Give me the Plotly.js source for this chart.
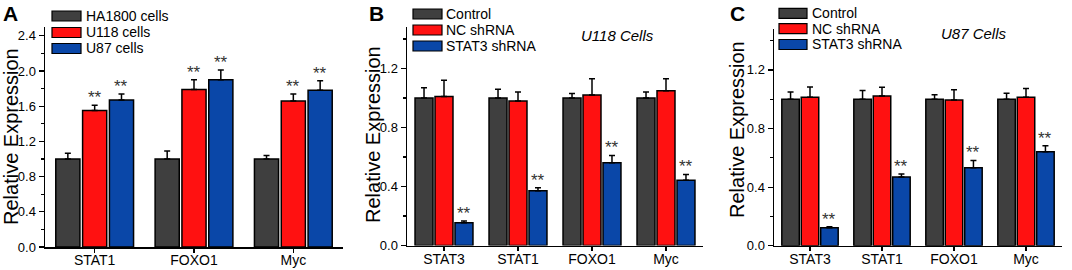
<!DOCTYPE html>
<html>
<head>
<meta charset="utf-8">
<script src="https://cdn.plot.ly/plotly-3.0.1.min.js"></script>
<style>html,body{margin:0;padding:0;background:#fff;}#chart{width:1072px;height:270px;}</style>
</head>
<body>
<div id="chart"></div>
<script>
// ---------- data ----------
const genesA = ['STAT1', 'FOXO1', 'Myc'];
const ha1800A = [1.00, 1.00, 1.00];
const ha1800ErrA = [0.065, 0.09, 0.04];
const u118A = [1.55, 1.79, 1.66];
const u118ErrA = [0.06, 0.11, 0.08];
const u87A = [1.67, 1.90, 1.78];
const u87ErrA = [0.07, 0.11, 0.11];

const genesB = ['STAT3', 'STAT1', 'FOXO1', 'Myc'];
const controlB = [1.00, 1.00, 1.00, 1.00];
const controlErrB = [0.07, 0.06, 0.03, 0.04];
const ncB = [1.01, 0.98, 1.02, 1.05];
const ncErrB = [0.11, 0.06, 0.11, 0.08];
const shB = [0.155, 0.372, 0.561, 0.442];
const shErrB = [0.011, 0.02, 0.05, 0.04];

const genesC = ['STAT3', 'STAT1', 'FOXO1', 'Myc'];
const controlC = [1.00, 1.00, 1.00, 1.00];
const controlErrC = [0.05, 0.06, 0.03, 0.04];
const ncC = [1.013, 1.022, 0.995, 1.013];
const ncErrC = [0.07, 0.06, 0.07, 0.06];
const shC = [0.123, 0.469, 0.532, 0.642];
const shErrC = [0.007, 0.02, 0.05, 0.04];

const legendA = ['HA1800 cells', 'U118 cells', 'U87 cells'];
const legendBC = ['Control', 'NC shRNA', 'STAT3 shRNA'];
const stars = '**';

// ---------- style ----------
const FONT = 'Arial, "Liberation Sans", Helvetica, sans-serif';
const GRAY = '#3f3f3f', RED = '#ff1111', BLUE = '#0a47a8';
const COLORS = [GRAY, RED, BLUE];
const BARGAP = 0.19, BARGROUPGAP = 0.1;
const SLOT = (1 - BARGAP) / 3;

function barTrace(x, y, err, color, xa, ya) {
  return {
    type: 'bar', x: x, y: y, xaxis: xa, yaxis: ya, showlegend: false,
    marker: {color: color, line: {color: '#000', width: 1.5}},
    error_y: {type: 'data', symmetric: false, array: err, arrayminus: err.map(() => 0),
              color: '#000', thickness: 1.5, width: 3},
    hoverinfo: 'skip'
  };
}

const traces = [
  barTrace(genesA, ha1800A, ha1800ErrA, GRAY, 'x', 'y'),
  barTrace(genesA, u118A, u118ErrA, RED, 'x', 'y'),
  barTrace(genesA, u87A, u87ErrA, BLUE, 'x', 'y'),
  barTrace(genesB, controlB, controlErrB, GRAY, 'x2', 'y2'),
  barTrace(genesB, ncB, ncErrB, RED, 'x2', 'y2'),
  barTrace(genesB, shB, shErrB, BLUE, 'x2', 'y2'),
  barTrace(genesC, controlC, controlErrC, GRAY, 'x3', 'y3'),
  barTrace(genesC, ncC, ncErrC, RED, 'x3', 'y3'),
  barTrace(genesC, shC, shErrC, BLUE, 'x3', 'y3')
];

const annotations = [];
function addStars(vals, errs, k, xa, ya) {
  vals.forEach((v, i) => {
    annotations.push({
      xref: xa, yref: ya, x: i + (k - 1) * SLOT, y: v + errs[i],
      text: stars, showarrow: false, yanchor: 'bottom', xanchor: 'center', yshift: -4,
      font: {family: FONT, size: 17, color: '#333'}
    });
  });
}
addStars(u118A, u118ErrA, 1, 'x', 'y');
addStars(u87A, u87ErrA, 2, 'x', 'y');
addStars(shB, shErrB, 2, 'x2', 'y2');
addStars(shC, shErrC, 2, 'x3', 'y3');

const W = 1072, H = 270;
function px(x) { return x / W; }
function py(y) { return 1 - y / H; }

// panel letters
[['A', 10], ['B', 376], ['C', 737]].forEach(([t, x]) => {
  annotations.push({xref: 'paper', yref: 'paper', x: px(x), y: py(13), text: '<b>' + t + '</b>',
    showarrow: false, xanchor: 'center', yanchor: 'middle', font: {family: FONT, size: 21, color: '#000'}});
});
// y titles
[[11, 137], [373, 135], [737, 130]].forEach(([x, y]) => {
  annotations.push({xref: 'paper', yref: 'paper', x: px(x), y: py(y), text: 'Relative Expression',
    textangle: -90, showarrow: false, xanchor: 'center', yanchor: 'middle',
    font: {family: FONT, size: 20, color: '#000'}});
});
// cell line labels
annotations.push({xref: 'paper', yref: 'paper', x: px(617), y: py(35), text: '<i>U118 Cells</i>',
  showarrow: false, xanchor: 'center', yanchor: 'middle', font: {family: FONT, size: 15, color: '#000'}});
annotations.push({xref: 'paper', yref: 'paper', x: px(974), y: py(33), text: '<i>U87 Cells</i>',
  showarrow: false, xanchor: 'center', yanchor: 'middle', font: {family: FONT, size: 15, color: '#000'}});

// custom legends (wide swatches)
const shapes = [];
function addLegend(labels, x0, x1, rows, tx) {
  labels.forEach((lab, k) => {
    shapes.push({type: 'rect', xref: 'paper', yref: 'paper', x0: px(x0), x1: px(x1),
      y0: py(rows[k] + 5), y1: py(rows[k] - 5), fillcolor: COLORS[k], line: {color: '#000', width: 1.2}});
    annotations.push({xref: 'paper', yref: 'paper', x: px(tx), y: py(rows[k]), text: lab,
      showarrow: false, xanchor: 'left', yanchor: 'middle', font: {family: FONT, size: 14, color: '#000'}});
  });
}
addLegend(legendA, 52, 81, [16, 32.5, 48.5], 84);
addLegend(legendBC, 413, 442, [14, 30, 46], 444);
addLegend(legendBC, 779, 807, [13.3, 28.7, 44.5], 810);

function xAxis(d0, d1, n, anchor) {
  return {domain: [px(d0), px(d1)], anchor: anchor, type: 'category', range: [-0.5, n - 0.5],
    showline: true, linecolor: '#000', linewidth: 1.5, ticks: 'outside', ticklen: 4, tickwidth: 1.2,
    tickcolor: '#000', showgrid: false, zeroline: false, fixedrange: true, ticklabelstandoff: -4,
    tickfont: {family: FONT, size: 14, color: '#000'}};
}
function yAxis(b, t, max, anchor) {
  return {domain: [py(b), py(t)], anchor: anchor, range: [0, max], dtick: 0.4, tick0: 0, tickformat: '.1f',
    showline: true, linecolor: '#000', linewidth: 1.5, ticks: 'outside', ticklen: 5, tickwidth: 1.2,
    tickcolor: '#000', showgrid: false, zeroline: false, fixedrange: true,
    minor: {dtick: 0.2, tick0: 0, ticks: 'outside', ticklen: 3, tickcolor: '#000', tickwidth: 1.2, showgrid: false},
    tickfont: {family: FONT, size: 13, color: '#000'}};
}

const layout = {
  width: W, height: H, margin: {l: 0, r: 0, t: 0, b: 0},
  paper_bgcolor: '#fff', plot_bgcolor: '#fff', showlegend: false,
  barmode: 'group', bargap: BARGAP, bargroupgap: BARGROUPGAP,
  font: {family: FONT, color: '#000'},
  xaxis: xAxis(45, 343, genesA.length, 'y'),
  yaxis: yAxis(247, 27, 2.5, 'x'),
  xaxis2: xAxis(407, 703, genesB.length, 'y2'),
  yaxis2: yAxis(245.5, 27.2, 1.48, 'x2'),
  xaxis3: xAxis(774, 1062, genesC.length, 'y3'),
  yaxis3: yAxis(245.7, 28.9, 1.48, 'x3'),
  annotations: annotations, shapes: shapes
};

Plotly.newPlot('chart', traces, layout, {staticPlot: true, displayModeBar: false});
</script>
</body>
</html>
